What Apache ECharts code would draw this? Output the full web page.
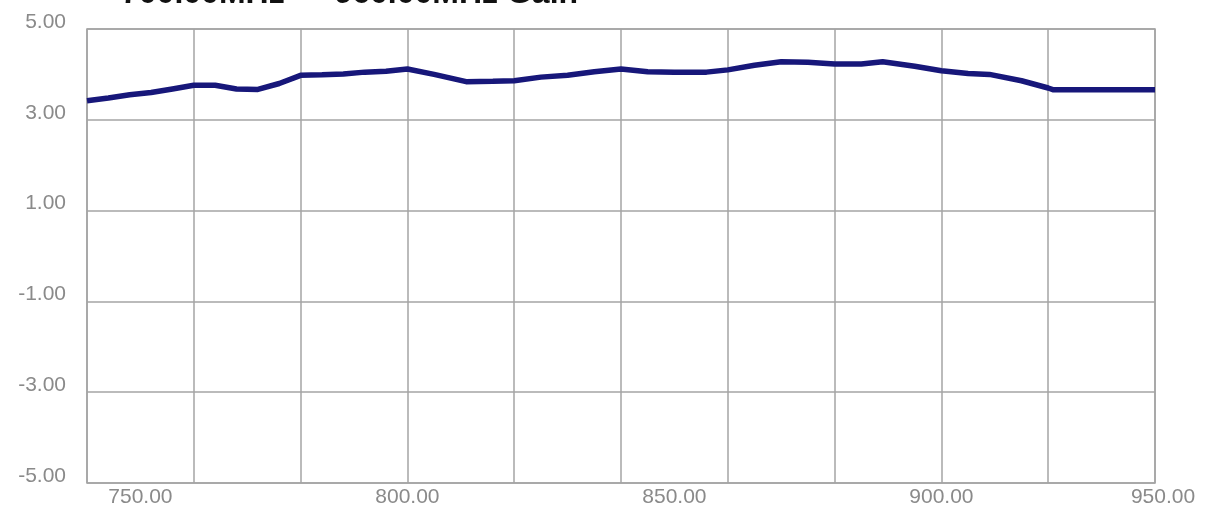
<!DOCTYPE html>
<html>
<head>
<meta charset="utf-8">
<style>
  html, body { margin: 0; padding: 0; background: #ffffff; }
  #chart { width: 1228px; height: 508px; }
</style>
<script src="https://cdn.jsdelivr.net/npm/echarts@6/dist/echarts.min.js"></script>
</head>
<body>
<div id="chart"></div>
<script>
// Measured gain across the band (frequency in MHz, gain in dB)
const freqMHz = [740, 744, 748, 752, 756, 760, 764, 768, 772, 776, 780, 784, 788, 792, 796, 800,
                 805, 811, 816, 820, 825, 830, 835, 840, 845, 850, 856, 860, 865, 870, 875, 880,
                 885, 889, 895, 900, 905, 909, 915, 920, 921, 930, 940];
const gainDb = [3.42, 3.48, 3.55, 3.60, 3.68, 3.76, 3.76, 3.68, 3.67, 3.80, 3.98, 3.99, 4.01, 4.05, 4.07, 4.12,
                4.00, 3.84, 3.85, 3.86, 3.94, 3.98, 4.06, 4.12, 4.06, 4.05, 4.05, 4.10, 4.20, 4.28, 4.27, 4.23,
                4.23, 4.28, 4.18, 4.08, 4.02, 4.00, 3.86, 3.70, 3.66, 3.66, 3.66];

// Axis extents and labelled ticks
const xMin = 740, xMax = 940, xGridStep = 20;
const xTickLabels = [750, 800, 850, 900];
const xEdgeLabel = [950];
const yMin = -5, yMax = 5, yStep = 2;
const titleText = '700.00MHz — 960.00MHz Gain';

const labelFont = {
  color: '#8a8a8a',
  fontFamily: 'Liberation Sans, Arial, sans-serif',
  fontSize: 21
};
const gridLine = { lineStyle: { color: '#a4a4a4', width: 1.5 } };

const chart = echarts.init(document.getElementById('chart'), null, { renderer: 'canvas' });
chart.setOption({
  animation: false,
  backgroundColor: '#ffffff',
  title: {
    text: titleText,
    left: 116,
    top: -27,
    textStyle: { color: '#111111', fontWeight: 'bold', fontSize: 32, fontFamily: 'Liberation Sans, Arial, sans-serif' }
  },
  grid: { left: 87, right: 73, top: 29, bottom: 23, show: true, borderColor: '#a0a0a0', borderWidth: 1.5 },
  xAxis: [{
    type: 'value', min: xMin, max: xMax, interval: xGridStep,
    axisLine: { show: false }, axisTick: { show: false },
    splitLine: Object.assign({ show: true }, gridLine),
    axisLabel: Object.assign({
      customValues: xTickLabels,
      margin: 4,
      formatter: v => v.toFixed(2)
    }, labelFont)
  }, {
    // carries only the band-edge label at the right end of the frequency axis
    type: 'value', min: xMin, max: xEdgeLabel[0], position: 'bottom',
    axisLine: { show: false }, axisTick: { show: false }, splitLine: { show: false },
    axisLabel: Object.assign({
      customValues: xEdgeLabel,
      margin: 4,
      align: 'center',
      padding: [0, 0, 0, 16],
      formatter: v => v.toFixed(2)
    }, labelFont)
  }],
  yAxis: {
    type: 'value', min: yMin, max: yMax, interval: yStep,
    axisLine: { show: false }, axisTick: { show: false },
    splitLine: Object.assign({ show: true }, gridLine),
    axisLabel: Object.assign({
      margin: 21,
      verticalAlign: 'bottom',
      lineHeight: 14,
      formatter: v => v.toFixed(2)
    }, labelFont)
  },
  series: [{
    type: 'line',
    xAxisIndex: 0,
    data: freqMHz.map((f, i) => [f, gainDb[i]]),
    showSymbol: false,
    lineStyle: { color: '#17177a', width: 5.5 },
    z: 5
  }]
});
</script>
</body>
</html>
